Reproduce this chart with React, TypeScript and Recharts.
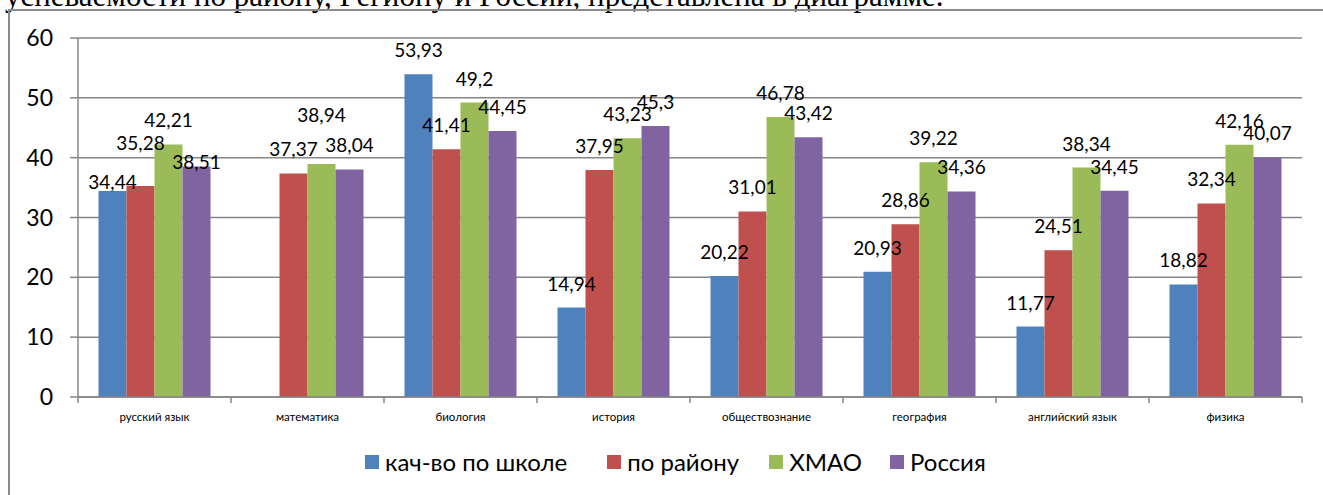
import React from 'react';
import { BarChart, Bar, XAxis, YAxis, CartesianGrid, LabelList, Legend } from 'recharts';

const categories = ['русский язык', 'математика', 'биология', 'история', 'обществознание', 'география', 'английский язык', 'физика'];
const school = [34.44, null, 53.93, 14.94, 20.22, 20.93, 11.77, 18.82];
const district = [35.28, 37.37, 41.41, 37.95, 31.01, 28.86, 24.51, 32.34];
const hmao = [42.21, 38.94, 49.2, 43.23, 46.78, 39.22, 38.34, 42.16];
const russia = [38.51, 38.04, 44.45, 45.3, 43.42, 34.36, 34.45, 40.07];
const yTicks = [0, 10, 20, 30, 40, 50, 60];

const seriesNames = ['кач-во по школе', 'по району', 'ХМАО', 'Россия'];
const seriesKeys = ['school', 'district', 'hmao', 'russia'];
const seriesColors = ['#4F81BD', '#C0504D', '#9BBB59', '#8064A2'];
const legendGaps = [40, 30, 28, 0];

// manual label nudges (px, + = down), as moved by hand in the original chart
const labelNudges: Record<string, number> = {
  'school-0': 15,
  'district-0': -19,
  'russia-0': 19,
  'hmao-1': -25,
};

const data = categories.map((c, i) => ({
  name: c,
  school: school[i],
  district: district[i],
  hmao: hmao[i],
  russia: russia[i],
}));

const W = 1323;
const H = 495;
const PLOT_LEFT = 78;
const PLOT_RIGHT = 1302;
const FONT = 'Lato, "Open Sans", sans-serif';
const GRID = '#868686';

const fmt = (v: any) => (v === null || v === undefined ? '' : String(v).replace('.', ','));

const XTick = (props: any) => {
  const { x, y, payload, index } = props;
  const bw = (PLOT_RIGHT - PLOT_LEFT) / categories.length;
  return (
    <g>
      <line x1={x - bw / 2} x2={x - bw / 2} y1={y} y2={y + 6} stroke={GRID} strokeWidth={1.5} />
      {index === categories.length - 1 && (
        <line x1={x + bw / 2} x2={x + bw / 2} y1={y} y2={y + 6} stroke={GRID} strokeWidth={1.5} />
      )}
      <text x={x} y={y + 19} textAnchor="middle" dominantBaseline="central" fontSize={11.5} fontFamily={FONT} fill="#000">
        {payload.value}
      </text>
    </g>
  );
};

const makeLabel = (key: string) => (props: any) => {
  const { x, y, width, value, index } = props;
  if (value === null || value === undefined) return null;
  const nudge = labelNudges[`${key}-${index}`] || 0;
  return (
    <text
      x={x + width / 2}
      y={y - 17 + nudge}
      textAnchor="middle"
      fontSize={19}
      fontFamily={FONT}
      fill="#000"
    >
      {fmt(value)}
    </text>
  );
};

const LegendContent = () => (
  <div style={{ display: 'flex', alignItems: 'center', paddingLeft: 365, fontFamily: FONT, fontSize: 24, color: '#000' }}>
    {seriesNames.map((n, i) => (
      <div key={n} style={{ display: 'flex', alignItems: 'center', marginRight: legendGaps[i] }}>
        <span style={{ display: 'inline-block', width: 14, height: 14, background: seriesColors[i], marginRight: 6 }} />
        <span>{n}</span>
      </div>
    ))}
  </div>
);

export default function App() {
  return (
    <div style={{ position: 'absolute', left: 0, top: 0, width: W, height: H, overflow: 'hidden', background: '#fff' }}>
      <div style={{ position: 'absolute', left: 5, top: -20, fontFamily: '"Liberation Serif", serif', fontSize: 31, lineHeight: '31px', whiteSpace: 'nowrap', color: '#000' }}>
        успеваемости по району, Региону и России, представлена в диаграмме.
      </div>
      <div style={{ position: 'absolute', left: 8, top: 9, width: W + 20, height: H + 20, border: '2px solid #8c8c8c', boxSizing: 'border-box' }} />
      <div style={{ position: 'absolute', left: 0, top: 0 }}>
        <BarChart
          width={W}
          height={H}
          data={data}
          margin={{ top: 38, right: W - PLOT_RIGHT, left: 0, bottom: 68 }}
          barCategoryGap="13.4%"
          barGap={0}
        >
          <CartesianGrid vertical={false} stroke={GRID} strokeWidth={1.5} />
          <XAxis
            dataKey="name"
            height={30}
            tickSize={0}
            tickMargin={0}
            tick={<XTick />}
            axisLine={{ stroke: GRID, strokeWidth: 1.5 }}
            tickLine={false}
            interval={0}
          />
          <YAxis
            width={PLOT_LEFT}
            domain={[0, 60]}
            ticks={yTicks}
            tickSize={8}
            tickMargin={17}
            axisLine={{ stroke: GRID, strokeWidth: 1.5 }}
            tickLine={{ stroke: GRID, strokeWidth: 1.5 }}
            tick={{ fontSize: 23, fontFamily: FONT, fill: '#000' }}
          />
          <Legend
            layout="horizontal"
            verticalAlign="middle"
            align="center"
            wrapperStyle={{ top: 447, left: 0, width: W }}
            content={<LegendContent />}
          />
          {seriesKeys.map((k, i) => (
            <Bar key={k} dataKey={k} name={seriesNames[i]} fill={seriesColors[i]} isAnimationActive={false}>
              <LabelList dataKey={k} content={makeLabel(k)} />
            </Bar>
          ))}
        </BarChart>
      </div>
    </div>
  );
}
